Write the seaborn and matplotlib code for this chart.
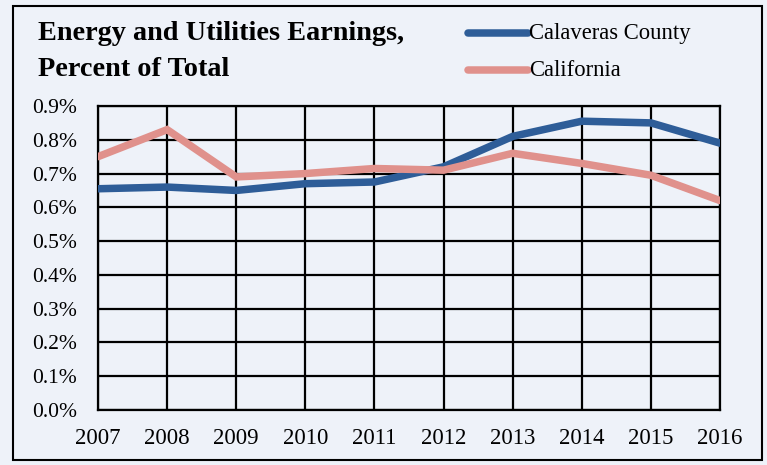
import matplotlib
matplotlib.use("Agg")
import matplotlib.pyplot as plt
from matplotlib.patches import Rectangle
from matplotlib.lines import Line2D
from matplotlib.ticker import PercentFormatter
import seaborn as sns
import pandas as pd

years = [2007, 2008, 2009, 2010, 2011, 2012, 2013, 2014, 2015, 2016]
calaveras = [0.655, 0.66, 0.65, 0.67, 0.675, 0.72, 0.81, 0.855, 0.85, 0.79]
california = [0.75, 0.83, 0.69, 0.70, 0.715, 0.71, 0.76, 0.73, 0.695, 0.62]
series_names = ["Calaveras County", "California"]
colors = ["#2E5D98", "#E0918C"]
title_lines = ["Energy and Utilities Earnings,", "Percent of Total"]

df = pd.DataFrame({
    "Year": years * 2,
    "Value": calaveras + california,
    "Series": [series_names[0]] * len(years) + [series_names[1]] * len(years),
})

sns.set_theme(style="white")
plt.rcParams["font.family"] = ["Liberation Serif", "DejaVu Serif"]

W, H = 767, 465
fig = plt.figure(figsize=(W / 100, H / 100), dpi=100)
fig.patch.set_facecolor("#EEF2F9")

ax = fig.add_axes([98 / W, 1 - 410 / H, (720 - 98) / W, (410 - 106) / H])
ax.set_facecolor("none")

sns.lineplot(data=df, x="Year", y="Value", hue="Series", palette=colors,
             hue_order=series_names, linewidth=5.4, ax=ax, legend=False,
             sort=False)
for ln in ax.lines:
    ln.set_solid_joinstyle("miter")
    ln.set_zorder(3)

ax.set_xlim(years[0], years[-1])
ax.set_ylim(0, 0.9)
ax.set_xticks(years)
ax.set_xticklabels([str(y) for y in years])
ax.set_yticks([i / 10 for i in range(10)])
ax.yaxis.set_major_formatter(PercentFormatter(decimals=1))
ax.set_xlabel("")
ax.set_ylabel("")

ax.grid(True, color="black", linewidth=1.6)
ax.set_axisbelow(True)
for side in ["left", "right", "top", "bottom"]:
    ax.spines[side].set_visible(True)
    ax.spines[side].set_color("black")
    ax.spines[side].set_linewidth(1.6)

ax.tick_params(axis="both", which="major", direction="out", length=6,
               width=1.6, color="black", labelcolor="black")
ax.tick_params(axis="y", pad=9, labelsize=15.5)
ax.tick_params(axis="x", pad=7, labelsize=16.5)

# title block
fig.text(38 / W, 1 - 33 / H, title_lines[0], fontsize=20.3, fontweight="bold",
         ha="left", va="center", color="black")
fig.text(38 / W, 1 - 70 / H, title_lines[1], fontsize=20.3, fontweight="bold",
         ha="left", va="center", color="black")

# legend
for i, (name, c) in enumerate(zip(series_names, colors)):
    yy = 1 - (33 + 37 * i) / H
    fig.add_artist(Line2D([468 / W, 528 / W], [yy, yy], color=c, linewidth=5.4,
                          solid_capstyle="round", transform=fig.transFigure))
    fig.text(529 / W, yy, name, fontsize=16.3, ha="left", va="center", color="black")

# outer frame
fig.add_artist(Rectangle((13 / W, 1 - 460 / H), (762 - 13) / W, (460 - 6) / H,
                         transform=fig.transFigure, fill=False,
                         edgecolor="black", linewidth=1.5))

fig.savefig("out.png", dpi=100, facecolor=fig.get_facecolor())
